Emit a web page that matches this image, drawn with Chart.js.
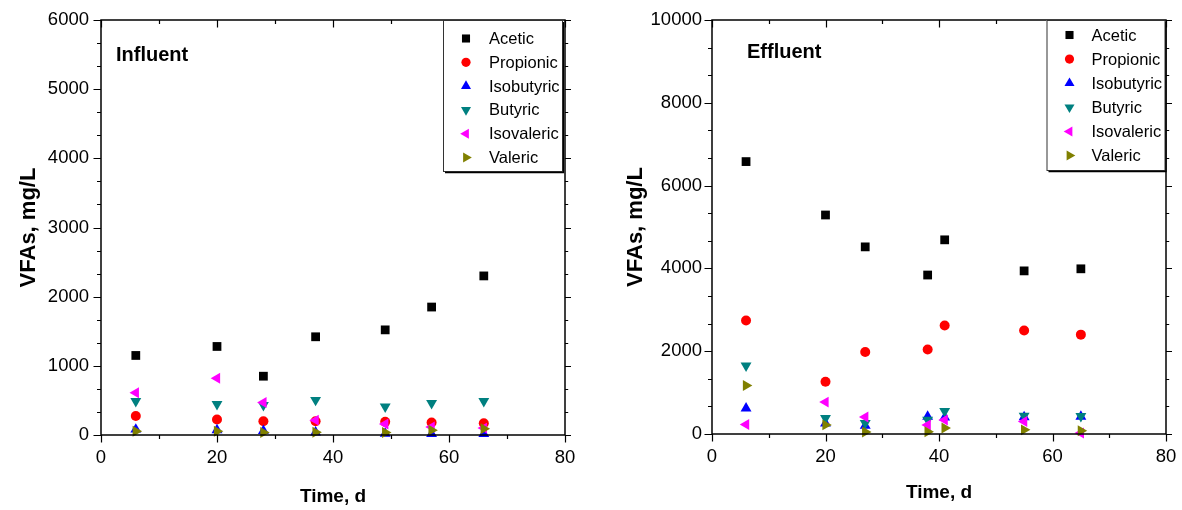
<!DOCTYPE html>
<html><head><meta charset="utf-8">
<script src="https://cdn.jsdelivr.net/npm/chart.js@4.4.1/dist/chart.umd.min.js"></script>
<style>
html,body{margin:0;padding:0;background:#fff;}
#wrap{position:relative;width:1182px;height:510px;overflow:hidden;background:#fff;}
.c{position:absolute;top:0;width:591px;height:510px;}
</style></head><body>
<div id="wrap">
<div class="c" style="left:0"><canvas id="c1" width="591" height="510"></canvas></div>
<div class="c" style="left:591px"><canvas id="c2" width="591" height="510"></canvas></div>
</div>
<script>
// ---------- data ----------
const seriesNames = ['Acetic', 'Propionic', 'Isobutyric', 'Butyric', 'Isovaleric', 'Valeric'];

const influentDays       = [6, 20, 28, 37, 49, 57, 66];
const influentAcetic     = [1150, 1280, 850, 1420, 1520, 1850, 2300];
const influentPropionic  = [275, 225, 200, 200, 190, 180, 170];
const influentIsobutyric = [80, 70, 60, 40, 20, 15, 15];
const influentButyric    = [490, 445, 430, 505, 410, 460, 490];
const influentIsovaleric = [610, 820, 470, 215, 160, 115, 100];
const influentValeric    = [55, 55, 35, 40, 35, 70, 90];

const effluentDays       = [6, 20, 27, 38, 41, 55, 65];
const effluentAcetic     = [6580, 5290, 4520, 3840, 4690, 3940, 3990];
const effluentPropionic  = [2740, 1260, 1980, 2040, 2620, 2500, 2400];
const effluentIsobutyric = [620, 260, 200, 420, 400, 410, 420];
const effluentButyric    = [1650, 380, 260, 340, 550, 440, 430];
const effluentIsovaleric = [230, 770, 410, 220, 340, 300, 25];
const effluentValeric    = [1170, 220, 50, 55, 145, 100, 80];

const xTickValues        = [0, 20, 40, 60, 80];
const influentYTicks     = [0, 1000, 2000, 3000, 4000, 5000, 6000];
const effluentYTicks     = [0, 2000, 4000, 6000, 8000, 10000];

// ---------- styles ----------
const seriesColors    = ['#000000', '#ff0000', '#0000ff', '#008080', '#ff00ff', '#808000'];
const seriesShapes    = ['rect', 'circle', 'triangle', 'triangle', 'triangle', 'triangle'];
const seriesRotations = [0, 0, 0, 180, 270, 90];
const seriesRadius    = [6.2, 5.0, 6.3, 6.3, 6.3, 6.3];

Chart.defaults.font.family = "'Liberation Sans', Arial, sans-serif";
Chart.defaults.color = '#000';

function drawMarker(ctx, shape, rot, r, x, y, color) {
  ctx.fillStyle = color;
  ctx.beginPath();
  if (shape === 'rect') {
    const s = r * Math.SQRT1_2;
    ctx.rect(x - s, y - s, 2 * s, 2 * s);
  } else if (shape === 'circle') {
    ctx.arc(x, y, r, 0, Math.PI * 2);
  } else {
    let rad = rot * Math.PI / 180;
    ctx.moveTo(x + Math.sin(rad) * r, y - Math.cos(rad) * r);
    rad += 2 * Math.PI / 3;
    ctx.lineTo(x + Math.sin(rad) * r, y - Math.cos(rad) * r);
    rad += 2 * Math.PI / 3;
    ctx.lineTo(x + Math.sin(rad) * r, y - Math.cos(rad) * r);
    ctx.closePath();
  }
  ctx.fill();
}

function makeChart(canvasId, days, series, yTicks, cfg) {
  const datasets = series.map((vals, i) => ({
    label: seriesNames[i],
    data: days.map((d, j) => ({x: d, y: vals[j]})),
    pointStyle: seriesShapes[i],
    rotation: seriesRotations[i],
    pointRadius: seriesRadius[i],
    pointHoverRadius: seriesRadius[i],
    backgroundColor: seriesColors[i],
    borderColor: seriesColors[i],
    pointBorderWidth: 0,
    borderWidth: 0,
    showLine: false,
    clip: false,
    order: series.length - i
  }));

  const decorPlugin = {
    id: 'decor' + canvasId,
    afterDraw(chart) {
      const ctx = chart.ctx, a = chart.chartArea;
      const xs = chart.scales.x, ys = chart.scales.y;
      ctx.save();
      // frame
      ctx.strokeStyle = '#000';
      ctx.lineWidth = 1.5;
      ctx.strokeRect(a.left, a.top, a.right - a.left, a.bottom - a.top);
      // ticks
      ctx.lineWidth = 1.2;
      ctx.beginPath();
      const MAJ = 7.5, MIN = 4;
      const xt = xTickValues;
      for (let i = 0; i < xt.length; i++) {
        const sub = [];
        sub.push([xt[i], MAJ]);
        if (i < xt.length - 1) {
          for (let k = 1; k < cfg.xMinorDiv; k++) sub.push([xt[i] + (xt[i + 1] - xt[i]) * k / cfg.xMinorDiv, MIN]);
        }
        sub.forEach(([v, len]) => {
          const px = Math.round(xs.getPixelForValue(v)) + 0.5;
          ctx.moveTo(px, a.bottom); ctx.lineTo(px, a.bottom + len);
          ctx.moveTo(px, a.top); ctx.lineTo(px, a.top + len);
        });
      }
      for (let i = 0; i < yTicks.length; i++) {
        const sub = [];
        sub.push([yTicks[i], MAJ]);
        if (i < yTicks.length - 1) {
          for (let k = 1; k < cfg.yMinorDiv; k++) sub.push([yTicks[i] + (yTicks[i + 1] - yTicks[i]) * k / cfg.yMinorDiv, MIN]);
        }
        sub.forEach(([v, len]) => {
          const py = Math.round(ys.getPixelForValue(v)) + 0.5;
          ctx.moveTo(a.left, py); ctx.lineTo(a.left - len, py);
          ctx.moveTo(a.right, py); ctx.lineTo(a.right + len * 0.8, py);
        });
      }
      ctx.stroke();

      // panel label
      ctx.fillStyle = '#000';
      ctx.font = "bold 20px 'Liberation Sans', Arial, sans-serif";
      ctx.textBaseline = 'middle';
      ctx.textAlign = 'left';
      ctx.fillText(cfg.panelLabel, a.left + cfg.labelDx, a.top + cfg.labelDy);

      // legend box
      const bx = a.right - cfg.legLeftFromRight, by = a.top + cfg.legTop;
      const bw = cfg.legLeftFromRight - cfg.legRightGap, bh = cfg.legHeight;
      ctx.fillStyle = '#fff';
      ctx.fillRect(bx, by, bw, bh);
      ctx.strokeStyle = '#333';
      ctx.lineWidth = 1;
      ctx.strokeRect(bx + 0.5, by + 0.5, bw, bh);
      ctx.strokeStyle = '#000';
      ctx.lineWidth = 1.3;
      ctx.beginPath();
      ctx.moveTo(bx + 2, by + bh + 1.5); ctx.lineTo(bx + bw + 1.5, by + bh + 1.5); ctx.lineTo(bx + bw + 1.5, by + 2);
      ctx.stroke();
      ctx.font = "16.5px 'Liberation Sans', Arial, sans-serif";
      ctx.textBaseline = 'middle';
      chart.data.datasets.forEach((ds, i) => {
        const yy = a.top + cfg.legRow0 + i * cfg.legRowGap;
        drawMarker(ctx, ds.pointStyle, ds.rotation, ds.pointRadius * 0.92, bx + cfg.legMarkX, yy, ds.backgroundColor);
        ctx.fillStyle = '#000';
        ctx.fillText(ds.label, bx + cfg.legTextX, yy + 1);
      });
      ctx.restore();
    }
  };

  return new Chart(document.getElementById(canvasId), {
    type: 'scatter',
    data: {datasets},
    options: {
      responsive: false,
      animation: false,
      events: [],
      layout: {padding: {left: 0, top: 20, right: cfg.padRight, bottom: 0}},
      plugins: {legend: {display: false}, tooltip: {enabled: false}},
      scales: {
        x: {
          type: 'linear', min: 0, max: 80,
          afterBuildTicks: s => { s.ticks = xTickValues.map(v => ({value: v})); },
          afterFit: s => { s.height = cfg.xAxisHeight; },
          grid: {display: true, drawOnChartArea: false, drawTicks: true, tickLength: 8, color: 'rgba(0,0,0,0)'},
          border: {display: false},
          ticks: {autoSkip: false, maxRotation: 0, padding: cfg.xTickPad, font: {size: 18.5}, color: '#000', callback: v => String(v)},
          title: {display: true, text: 'Time, d', font: {size: 19, weight: 'bold'}, color: '#000', padding: {top: 0, bottom: cfg.xTitlePad}}
        },
        y: {
          type: 'linear', min: 0, max: yTicks[yTicks.length - 1],
          afterBuildTicks: s => { s.ticks = yTicks.map(v => ({value: v})); },
          afterFit: s => { s.width = cfg.yAxisWidth; },
          grid: {display: true, drawOnChartArea: false, drawTicks: true, tickLength: 8, color: 'rgba(0,0,0,0)'},
          border: {display: false},
          ticks: {autoSkip: false, padding: cfg.yTickPad, font: {size: 18.5}, color: '#000', callback: v => String(v)},
          title: {display: true, text: 'VFAs, mg/L', font: {size: 22, weight: 'bold'}, color: '#000', padding: {top: cfg.yTitlePad, bottom: 0}}
        }
      }
    },
    plugins: [decorPlugin]
  });
}

makeChart('c1', influentDays,
  [influentAcetic, influentPropionic, influentIsobutyric, influentButyric, influentIsovaleric, influentValeric],
  influentYTicks,
  {xMinorDiv: 2, yMinorDiv: 3, padRight: 26, xAxisHeight: 75, yAxisWidth: 101,
   xTickPad: 4, xTitlePad: 1.5, yTickPad: 4, yTitlePad: 16,
   panelLabel: 'Influent', labelDx: 15, labelDy: 35,
   legLeftFromRight: 122, legRightGap: 3, legTop: 0, legHeight: 151,
   legRow0: 18.5, legRowGap: 23.8, legMarkX: 23, legTextX: 46});

makeChart('c2', effluentDays,
  [effluentAcetic, effluentPropionic, effluentIsobutyric, effluentButyric, effluentIsovaleric, effluentValeric],
  effluentYTicks,
  {xMinorDiv: 2, yMinorDiv: 3, padRight: 16, xAxisHeight: 76, yAxisWidth: 121,
   xTickPad: 4, xTitlePad: 6, yTickPad: 2, yTitlePad: 32,
   panelLabel: 'Effluent', labelDx: 35, labelDy: 32,
   legLeftFromRight: 119.5, legRightGap: 1.5, legTop: 0, legHeight: 150,
   legRow0: 15, legRowGap: 24.1, legMarkX: 23, legTextX: 45});
</script>
</body></html>
